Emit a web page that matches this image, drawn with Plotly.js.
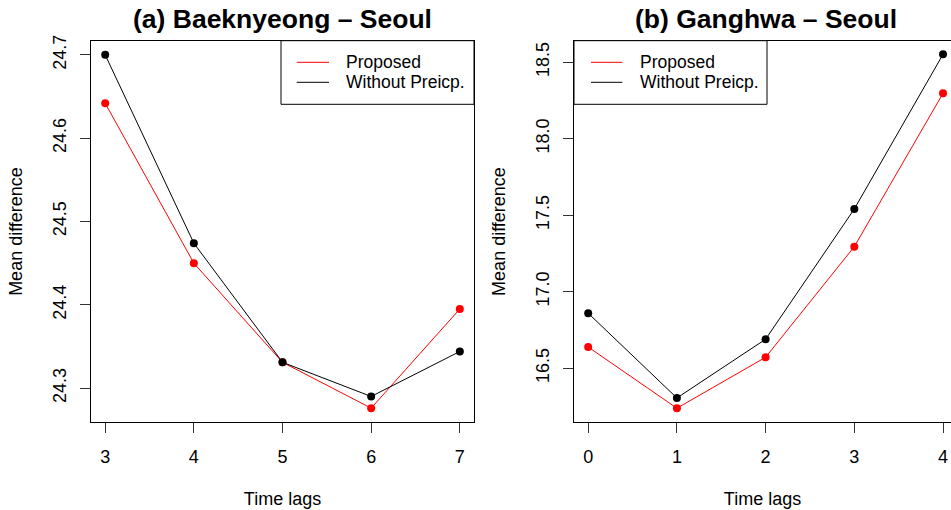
<!DOCTYPE html>
<html>
<head>
<meta charset="utf-8">
<script src="https://cdn.plot.ly/plotly-3.0.1.min.js"></script>
<style>
  html, body { margin: 0; padding: 0; background: #ffffff; }
  #chart { width: 951px; height: 510px; }
</style>
</head>
<body>
<div id="chart"></div>
<script>
// Mean difference by time lag, two station pairs
const lagsA = [3, 4, 5, 6, 7];
const proposedA = [24.642, 24.450, 24.331, 24.276, 24.395];
const withoutPrecipA = [24.700, 24.474, 24.331, 24.290, 24.344];

const lagsB = [0, 1, 2, 3, 4];
const proposedB = [16.639, 16.239, 16.572, 17.295, 18.297];
const withoutPrecipB = [16.860, 16.306, 16.690, 17.541, 18.552];

const panelTitles = ['(a) Baeknyeong – Seoul', '(b) Ganghwa – Seoul'];
const seriesNames = ['Proposed', 'Without Preicp.'];
const seriesColors = ['#ff0000', '#000000'];

const W = 951, H = 510;
const px = v => v / W;          // pixel -> paper x
const py = v => 1 - v / H;      // pixel -> paper y
const FONT = '"Liberation Sans", Arial, Helvetica, sans-serif';

function series(x, y, color, xa, ya) {
  return {
    x: x, y: y, xaxis: xa, yaxis: ya,
    type: 'scatter', mode: 'lines+markers',
    line: { color: color, width: 1 },
    marker: { color: color, size: 8 },
    showlegend: false, hoverinfo: 'x+y'
  };
}

const data = [
  series(lagsA, proposedA, seriesColors[0], 'x', 'y'),
  series(lagsA, withoutPrecipA, seriesColors[1], 'x', 'y'),
  series(lagsB, proposedB, seriesColors[0], 'x2', 'y2'),
  series(lagsB, withoutPrecipB, seriesColors[1], 'x2', 'y2')
];

const plotTop = 40.7, plotBottom = 422.3;

function xAxis(domain, range) {
  return {
    domain: domain, range: range, dtick: 1, tick0: 0,
    showgrid: false, zeroline: false,
    showline: true, linecolor: '#000', linewidth: 1, mirror: true,
    ticks: 'outside', ticklen: 10, tickcolor: '#333', tickwidth: 1,
    ticklabelstandoff: 8,
    tickfont: { family: FONT, size: 18, color: '#000' },
    title: { text: 'Time lags', font: { family: FONT, size: 18, color: '#000' }, standoff: 26 }
  };
}
function yAxis(domain, range, dtick, tick0, mirror) {
  return {
    domain: domain, range: range, dtick: dtick, tick0: tick0, tickformat: '.1f',
    showgrid: false, zeroline: false,
    showline: true, linecolor: '#000', linewidth: 1, mirror: mirror,
    ticks: 'outside', ticklen: 10, tickcolor: '#333', tickwidth: 1,
    tickangle: -90, ticklabelstandoff: 7,
    tickfont: { family: FONT, size: 18, color: '#000' },
    title: { text: 'Mean difference', font: { family: FONT, size: 18, color: '#000' }, standoff: 22 }
  };
}

const yDomain = [py(plotBottom), py(plotTop)];

// Legend boxes drawn in the style of base graphics legends
function legendShapes(x0, x1, lineX0, lineX1) {
  const s = [{
    type: 'rect', xref: 'paper', yref: 'paper',
    x0: px(x0), x1: px(x1), y0: py(104.3), y1: py(plotTop),
    line: { color: '#000', width: 1 }, fillcolor: '#ffffff', layer: 'above'
  }];
  [62.3, 82.3].forEach((yy, i) => s.push({
    type: 'line', xref: 'paper', yref: 'paper',
    x0: px(lineX0), x1: px(lineX1), y0: py(yy), y1: py(yy),
    line: { color: seriesColors[i], width: 1 }, layer: 'above'
  }));
  return s;
}
function legendText(textX) {
  return [62.3, 82.3].map((yy, i) => ({
    xref: 'paper', yref: 'paper', x: px(textX), y: py(yy),
    xanchor: 'left', yanchor: 'middle', showarrow: false, borderpad: 0,
    text: seriesNames[i], font: { family: FONT, size: 17.5, color: '#000' }
  }));
}

const titleAnn = [[282.5, panelTitles[0]], [765.5, panelTitles[1]]].map(([cx, t]) => ({
  xref: 'paper', yref: 'paper', x: px(cx), y: py(19.5),
  xanchor: 'center', yanchor: 'middle', showarrow: false,
  text: '<b>' + t + '</b>', font: { family: FONT, size: 26.5, color: '#000' }
}));

const layout = {
  width: W, height: H,
  margin: { l: 0, r: 0, t: 0, b: 0, autoexpand: false },
  paper_bgcolor: '#ffffff', plot_bgcolor: '#ffffff',
  font: { family: FONT, color: '#000' },
  showlegend: false,
  xaxis: xAxis([px(91), px(474)], [2.84, 7.16]),
  yaxis: yAxis(yDomain, [24.259, 24.717], 0.1, 24.3, true),
  xaxis2: xAxis([px(574), 1], [-0.16, 4.09]),
  yaxis2: yAxis(yDomain, [16.147, 18.641], 0.5, 16.5, false),
  shapes: [].concat(legendShapes(281, 474, 296.7, 329), legendShapes(574, 767, 591, 622.3)),
  annotations: [].concat(titleAnn, legendText(345), legendText(638.5))
};
layout.xaxis2.anchor = 'y2';
layout.yaxis2.anchor = 'x2';
layout.xaxis.anchor = 'y';
layout.yaxis.anchor = 'x';

Plotly.newPlot('chart', data, layout, { displayModeBar: false, staticPlot: true });
</script>
</body>
</html>
